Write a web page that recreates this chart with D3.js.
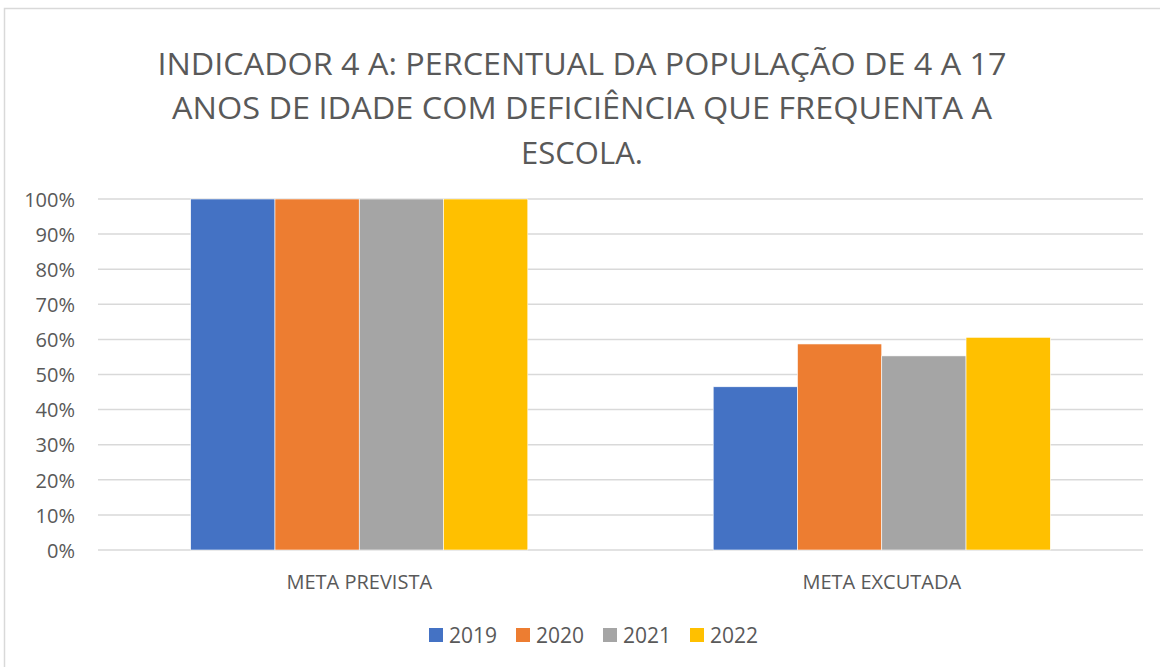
<!DOCTYPE html>
<meta charset="utf-8">
<head>
  <title>Indicador 4 A</title>
</head>
<style>
body { margin: 0; background: #fff; }
text { font-family: "Open Sans", "Noto Sans", sans-serif; fill: #595959; }
.grid line { stroke: #d9d9d9; stroke-width: 1.5; }
</style>
<body>
  <svg width="1160" height="667"></svg>
  <script src="https://cdnjs.cloudflare.com/ajax/libs/d3/7.8.5/d3.min.js"></script>
  <script>
var width = 1160, height = 667

var titleLines = [
  'INDICADOR 4 A: PERCENTUAL DA POPULAÇÃO DE 4 A 17',
  'ANOS DE IDADE COM DEFICIÊNCIA QUE FREQUENTA A',
  'ESCOLA.'
]
var categories = ['META PREVISTA', 'META EXCUTADA']
var years = ['2019', '2020', '2021', '2022']
var colors = ['#4472C4', '#ED7D31', '#A5A5A5', '#FFC000']
var values2019 = [1.00, 0.465]
var values2020 = [1.00, 0.587]
var values2021 = [1.00, 0.553]
var values2022 = [1.00, 0.606]
var yTicks = [0, 0.1, 0.2, 0.3, 0.4, 0.5, 0.6, 0.7, 0.8, 0.9, 1.0]

var series = [values2019, values2020, values2021, values2022]
var font = '"Open Sans", "Noto Sans", sans-serif'

var svg = d3.select('svg')

// chart frame
svg.append('rect')
  .attr('x', 4.5).attr('y', 8.5)
  .attr('width', 1170).attr('height', 680)
  .attr('fill', 'none')
  .attr('stroke', '#d9d9d9')
  .attr('stroke-width', 1.5)

// title
var titleWidths = [849, 820, 120]
var titleBase = [75, 119, 164]
svg.selectAll('.title')
  .data(titleLines)
  .enter().append('text')
  .attr('class', 'title')
  .attr('x', 582)
  .attr('y', function(d, i) { return titleBase[i] })
  .attr('text-anchor', 'middle')
  .style('font-size', '31px')
  .text(function(d) { return d })
  .each(function(d, i) {
    var w = this.getComputedTextLength()
    if (Math.abs(w - titleWidths[i]) > 4) {
      d3.select(this).attr('textLength', titleWidths[i]).attr('lengthAdjust', 'spacingAndGlyphs')
    }
  })

var x0 = d3.scaleBand().domain(categories).range([98, 1143]).padding(0)
var x1 = d3.scaleBand().domain(years).range([0, x0.bandwidth()]).paddingInner(0).paddingOuter(1.1)
var y = d3.scaleLinear().domain([0, 1]).range([550, 199])

// gridlines
svg.append('g')
  .attr('class', 'grid')
  .selectAll('line')
  .data(yTicks)
  .enter().append('line')
  .attr('x1', 98).attr('x2', 1143)
  .attr('y1', function(d) { return y(d) })
  .attr('y2', function(d) { return y(d) })

// y axis labels
var yAxis = d3.axisLeft(y).tickValues(yTicks).tickFormat(d3.format('.0%')).tickSize(0).tickPadding(0)
var ya = svg.append('g').attr('transform', 'translate(75,0)').call(yAxis)
ya.select('.domain').remove()
ya.selectAll('text').style('font-size', '20px').attr('dy', '0.36em').style('fill', '#595959').style('font-family', font)

// bars
var groups = svg.selectAll('.cat')
  .data(categories)
  .enter().append('g')
  .attr('transform', function(d) { return 'translate(' + x0(d) + ',0)' })

groups.selectAll('rect')
  .data(function(d, ci) { return years.map(function(yr, si) { return {year: yr, value: series[si][ci], color: colors[si]} }) })
  .enter().append('rect')
  .attr('x', function(d) { return x1(d.year) })
  .attr('width', x1.bandwidth())
  .attr('y', function(d) { return y(d.value) })
  .attr('height', function(d) { return y(0) - y(d.value) })
  .attr('fill', function(d) { return d.color })
  .attr('stroke', '#fff')
  .attr('stroke-width', 0.6)

// category labels
var xAxis = d3.axisBottom(x0).tickSize(0).tickPadding(0)
var xa = svg.append('g').attr('transform', 'translate(0,589)').call(xAxis)
xa.select('.domain').remove()
xa.selectAll('text').attr('dy', 0).style('font-size', '20px').style('fill', '#595959').style('font-family', font)

// legend
var legend = svg.selectAll('.leg')
  .data(years)
  .enter().append('g')
  .attr('transform', function(d, i) { return 'translate(' + (429 + i * 87) + ',628)' })
legend.append('rect')
  .attr('width', 14).attr('height', 14)
  .attr('fill', function(d, i) { return colors[i] })
legend.append('text')
  .attr('x', 20).attr('y', 14.5)
  .style('font-size', '21px')
  .text(function(d) { return d })
  </script>
</body>
</html>
